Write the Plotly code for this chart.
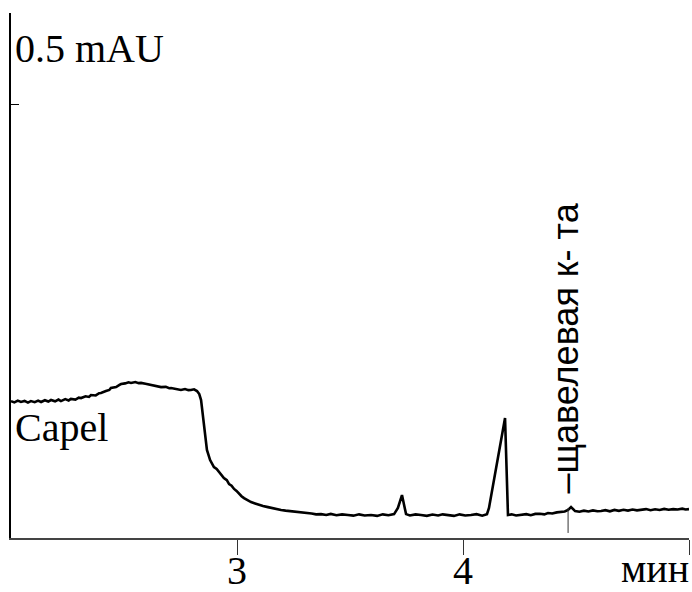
import plotly.graph_objects as go

# Chromatogram trace (time in min, absorbance in mAU)
time_min = [2.000, 2.015, 2.030, 2.044, 2.060, 2.075, 2.088, 2.105, 2.120, 2.133, 2.150, 2.165,
            2.177, 2.195, 2.210, 2.221, 2.240, 2.255, 2.265, 2.285, 2.300, 2.310, 2.330, 2.345,
            2.354, 2.375, 2.390, 2.398, 2.420, 2.435, 2.442, 2.465, 2.480, 2.487, 2.505, 2.520,
            2.531, 2.550, 2.565, 2.575, 2.595, 2.610, 2.619, 2.640, 2.655, 2.664, 2.685, 2.700,
            2.708, 2.730, 2.745, 2.752, 2.770, 2.785, 2.796, 2.810, 2.823, 2.833, 2.841, 2.854,
            2.867, 2.881, 2.890, 2.898, 2.910, 2.920, 2.930, 2.942, 2.955, 2.965, 2.976, 2.987,
            2.998, 3.009, 3.020, 3.031, 3.045, 3.062, 3.080, 3.097, 3.115, 3.137, 3.160, 3.180,
            3.195, 3.215, 3.235, 3.255, 3.270, 3.290, 3.310, 3.330, 3.350, 3.372, 3.395, 3.415,
            3.440, 3.465, 3.491, 3.515, 3.540, 3.565, 3.593, 3.620, 3.645, 3.670, 3.695, 3.712,
            3.730, 3.748, 3.765, 3.790, 3.814, 3.840, 3.865, 3.890, 3.910, 3.934, 3.960, 3.985,
            4.010, 4.035, 4.060, 4.085, 4.106, 4.115, 4.186, 4.199, 4.215, 4.235, 4.257, 4.280,
            4.300, 4.320, 4.340, 4.360, 4.376, 4.395, 4.415, 4.434, 4.450, 4.465, 4.478, 4.496,
            4.515, 4.535, 4.555, 4.575, 4.595, 4.611, 4.630, 4.650, 4.670, 4.690, 4.710, 4.730,
            4.750, 4.770, 4.788, 4.810, 4.830, 4.850, 4.870, 4.890, 4.910, 4.930, 4.950, 4.970,
            4.985, 5.000]
absorbance_mau = [0.648, 0.642, 0.650, 0.644, 0.649, 0.641, 0.648, 0.643, 0.650, 0.644, 0.652, 0.646,
                  0.653, 0.647, 0.655, 0.648, 0.657, 0.651, 0.658, 0.655, 0.664, 0.662, 0.670, 0.667,
                  0.676, 0.674, 0.684, 0.685, 0.694, 0.699, 0.708, 0.712, 0.722, 0.726, 0.729, 0.734,
                  0.731, 0.735, 0.730, 0.731, 0.727, 0.724, 0.721, 0.719, 0.714, 0.712, 0.713, 0.707,
                  0.708, 0.705, 0.702, 0.699, 0.703, 0.698, 0.699, 0.702, 0.694, 0.680, 0.653, 0.539,
                  0.425, 0.379, 0.365, 0.347, 0.338, 0.324, 0.314, 0.297, 0.287, 0.269, 0.262, 0.247,
                  0.238, 0.224, 0.214, 0.205, 0.196, 0.187, 0.181, 0.174, 0.169, 0.164, 0.158, 0.155,
                  0.151, 0.148, 0.146, 0.141, 0.142, 0.139, 0.136, 0.135, 0.131, 0.132, 0.128, 0.133,
                  0.127, 0.131, 0.128, 0.125, 0.131, 0.126, 0.128, 0.124, 0.131, 0.127, 0.132, 0.160,
                  0.219, 0.132, 0.126, 0.131, 0.128, 0.124, 0.130, 0.126, 0.131, 0.128, 0.124, 0.131,
                  0.126, 0.128, 0.132, 0.125, 0.132, 0.160, 0.571, 0.128, 0.131, 0.126, 0.128, 0.132,
                  0.127, 0.133, 0.134, 0.131, 0.137, 0.135, 0.140, 0.142, 0.144, 0.151, 0.164, 0.146,
                  0.143, 0.148, 0.144, 0.149, 0.145, 0.146, 0.150, 0.145, 0.151, 0.147, 0.152, 0.148,
                  0.153, 0.149, 0.151, 0.155, 0.150, 0.154, 0.151, 0.156, 0.152, 0.155, 0.153, 0.157,
                  0.153, 0.155]

x_tick_vals = [3, 4, 5]
x_tick_text = ["3", "4", ""]
y_tick_vals = [2.0]

oxalic_time = 4.465
oxalic_marker = [0.046, 0.160]
oxalic_label = "–щавелевая к- та"
trace_label = "Capel"
scale_label = "0.5 mAU"
x_unit_label = "мин"

serif = "Liberation Serif"
sans = "Liberation Sans"

fig = go.Figure()
fig.add_trace(go.Scatter(x=time_min, y=absorbance_mau, mode="lines",
                         line=dict(color="black", width=2.6), hoverinfo="skip",
                         showlegend=False))

fig.add_shape(type="line", xref="x", yref="y", x0=oxalic_time, x1=oxalic_time,
              y0=oxalic_marker[0], y1=oxalic_marker[1],
              line=dict(color="#333333", width=1))

fig.add_annotation(x=4.452, y=0.215, xref="x", yref="y", text=oxalic_label,
                   textangle=-90, showarrow=False, xanchor="center", yanchor="bottom",
                   font=dict(family=sans, size=36, color="black"))
fig.add_annotation(x=2.0, y=0.671, xref="x", yref="y", text=trace_label, xshift=2,
                   yshift=-7, showarrow=False, xanchor="left", yanchor="top",
                   font=dict(family=serif, size=40, color="black"))
fig.add_annotation(x=0, y=1.0, xref="paper", yref="paper", text=scale_label, xshift=2,
                   yshift=-11, showarrow=False, xanchor="left", yanchor="top",
                   font=dict(family=serif, size=40, color="black"))
for tv, tt in zip(x_tick_vals, x_tick_text):
    if tt:
        fig.add_annotation(x=tv, y=0, xref="x", yref="paper", text=tt, yshift=-8,
                           showarrow=False, xanchor="center", yanchor="top",
                           font=dict(family=serif, size=40, color="black"))
fig.add_annotation(x=1, y=0, xref="paper", yref="paper", text=x_unit_label, xshift=1,
                   yshift=-7, showarrow=False, xanchor="right", yanchor="top", borderpad=0,
                   font=dict(family=serif, size=40, color="black"))

fig.update_layout(
    width=692, height=592,
    margin=dict(l=11, r=3, t=13, b=54),
    paper_bgcolor="white", plot_bgcolor="white",
    xaxis=dict(range=[2.0, 5.0], tickvals=x_tick_vals, showticklabels=False,
               ticks="outside", ticklen=15, tickwidth=1, tickcolor="#333333",
               showline=True, linecolor="#444444", linewidth=1.5,
               showgrid=False, zeroline=False, automargin=False),
    yaxis=dict(range=[0.023, 2.42], tickvals=y_tick_vals, showticklabels=False,
               ticks="inside", ticklen=8, tickwidth=1, tickcolor="black",
               showline=True, linecolor="black", linewidth=1.5,
               showgrid=False, zeroline=False, automargin=False),
)

fig.write_html("out.html", config={"displayModeBar": False},
               post_script="document.body.style.margin='0';document.body.style.overflow='hidden';")
